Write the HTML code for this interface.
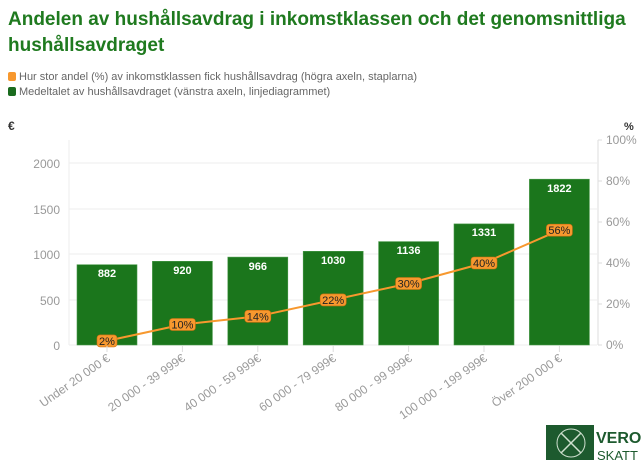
<!DOCTYPE html>
<html><head><meta charset="utf-8"><style>
body{margin:0;background:#fff;width:643px;height:465px;overflow:hidden;font-family:"Liberation Sans",sans-serif}
</style></head><body>
<svg width="643" height="465" xmlns="http://www.w3.org/2000/svg" font-family="Liberation Sans, sans-serif">
<text x="8" y="25" font-size="19" font-weight="bold" fill="#1f7a1f">Andelen av hushållsavdrag i inkomstklassen och det genomsnittliga</text>
<text x="8" y="51" font-size="19" font-weight="bold" fill="#1f7a1f">hushållsavdraget</text>
<rect x="8" y="72" width="8" height="9" rx="2" fill="#f7982e"/>
<text x="19" y="80" font-size="11" fill="#666">Hur stor andel (%) av inkomstklassen fick hushållsavdrag (högra axeln, staplarna)</text>
<rect x="8" y="87" width="8" height="9" rx="2" fill="#1a6b1e"/>
<text x="19" y="95" font-size="11" fill="#666">Medeltalet av hushållsavdraget (vänstra axeln, linjediagrammet)</text>
<text x="8" y="130" font-size="12" font-weight="bold" fill="#333">€</text>
<text x="624" y="130" font-size="11" font-weight="bold" fill="#333">%</text>
<g stroke="#eee" stroke-width="1">
<line x1="69" y1="163" x2="597" y2="163"/><line x1="69" y1="209" x2="597" y2="209"/>
<line x1="69" y1="254" x2="597" y2="254"/><line x1="69" y1="300" x2="597" y2="300"/>
<line x1="69" y1="345" x2="597" y2="345"/><line x1="69" y1="140" x2="69" y2="345"/>
</g>
<g stroke="#ddd"><line x1="598" y1="140" x2="598" y2="345"/>
<line x1="598" y1="140" x2="602" y2="140"/><line x1="598" y1="181" x2="602" y2="181"/><line x1="598" y1="222" x2="602" y2="222"/><line x1="598" y1="263" x2="602" y2="263"/><line x1="598" y1="304" x2="602" y2="304"/><line x1="598" y1="345" x2="602" y2="345"/></g>
<g font-size="12" fill="#999" text-anchor="end">
<text x="60" y="168">2000</text><text x="60" y="214">1500</text><text x="60" y="259">1000</text><text x="60" y="305">500</text><text x="60" y="350">0</text></g>
<g font-size="12" fill="#999">
<text x="606" y="144">100%</text><text x="606" y="185">80%</text><text x="606" y="226">60%</text><text x="606" y="267">40%</text><text x="606" y="308">20%</text><text x="606" y="349">0%</text></g>
<g fill="#1b761c" stroke="#4a9a4a" stroke-width="0.6">
<rect x="77" y="264.7" width="60" height="80.3"/>
<rect x="152.4" y="261.3" width="60" height="83.7"/>
<rect x="227.8" y="257.1" width="60" height="87.9"/>
<rect x="303.2" y="251.3" width="60" height="93.7"/>
<rect x="378.6" y="241.6" width="60" height="103.4"/>
<rect x="454" y="223.9" width="60" height="121.1"/>
<rect x="529.4" y="179.2" width="60" height="165.8"/>
</g>
<g font-size="11" font-weight="bold" fill="#fff" text-anchor="middle">
<text x="107" y="277">882</text><text x="182.4" y="274">920</text><text x="257.8" y="270">966</text><text x="333.2" y="264">1030</text><text x="408.6" y="254">1136</text><text x="484" y="236">1331</text><text x="559.4" y="192">1822</text></g>
<polyline fill="none" stroke="#f7982e" stroke-width="2" points="107,340.9 182.4,324.5 257.8,316.3 333.2,299.9 408.6,283.5 484,263 559.4,230.2"/>
<g fill="#f7982e" stroke="#d07010" stroke-width="0.6">
<rect x="97" y="334.9" width="20" height="12" rx="3"/><rect x="169.4" y="318.5" width="26" height="12" rx="3"/><rect x="244.8" y="310.3" width="26" height="12" rx="3"/><rect x="320.2" y="293.9" width="26" height="12" rx="3"/><rect x="395.6" y="277.5" width="26" height="12" rx="3"/><rect x="471" y="257" width="26" height="12" rx="3"/><rect x="546.4" y="224.2" width="26" height="12" rx="3"/></g>
<g font-size="11" fill="#222" text-anchor="middle">
<text x="107" y="345">2%</text><text x="182.4" y="328.5">10%</text><text x="257.8" y="320.3">14%</text><text x="333.2" y="303.9">22%</text><text x="408.6" y="287.5">30%</text><text x="484" y="267">40%</text><text x="559.4" y="234.2">56%</text></g>
<g stroke="#ddd"><line x1="107" y1="346" x2="107" y2="352"/><line x1="182.4" y1="346" x2="182.4" y2="352"/><line x1="257.8" y1="346" x2="257.8" y2="352"/><line x1="333.2" y1="346" x2="333.2" y2="352"/><line x1="408.6" y1="346" x2="408.6" y2="352"/><line x1="484" y1="346" x2="484" y2="352"/><line x1="559.4" y1="346" x2="559.4" y2="352"/></g>
<g font-size="12" fill="#999" text-anchor="end">
<text transform="translate(111,360) rotate(-35)">Under 20 000 €</text>
<text transform="translate(186,360) rotate(-35)">20 000 - 39 999€</text>
<text transform="translate(262,360) rotate(-35)">40 000 - 59 999€</text>
<text transform="translate(337,360) rotate(-35)">60 000 - 79 999€</text>
<text transform="translate(413,360) rotate(-35)">80 000 - 99 999€</text>
<text transform="translate(488,360) rotate(-35)">100 000 - 199 999€</text>
<text transform="translate(563,360) rotate(-35)">Över 200 000 €</text>
</g>
<rect x="546" y="425" width="48" height="35" fill="#1d5a2e"/>
<circle cx="571" cy="443" r="14" fill="none" stroke="#cfe0cf" stroke-width="1"/>
<line x1="561" y1="433" x2="581" y2="453" stroke="#cfe0cf" stroke-width="1.5"/>
<line x1="581" y1="433" x2="561" y2="453" stroke="#cfe0cf" stroke-width="1.5"/>
<text x="596" y="443" font-size="16" font-weight="bold" fill="#1d5a2e">VERO</text>
<text x="597" y="460" font-size="13" fill="#1d5a2e">SKATT</text>
</svg>
</body></html>
